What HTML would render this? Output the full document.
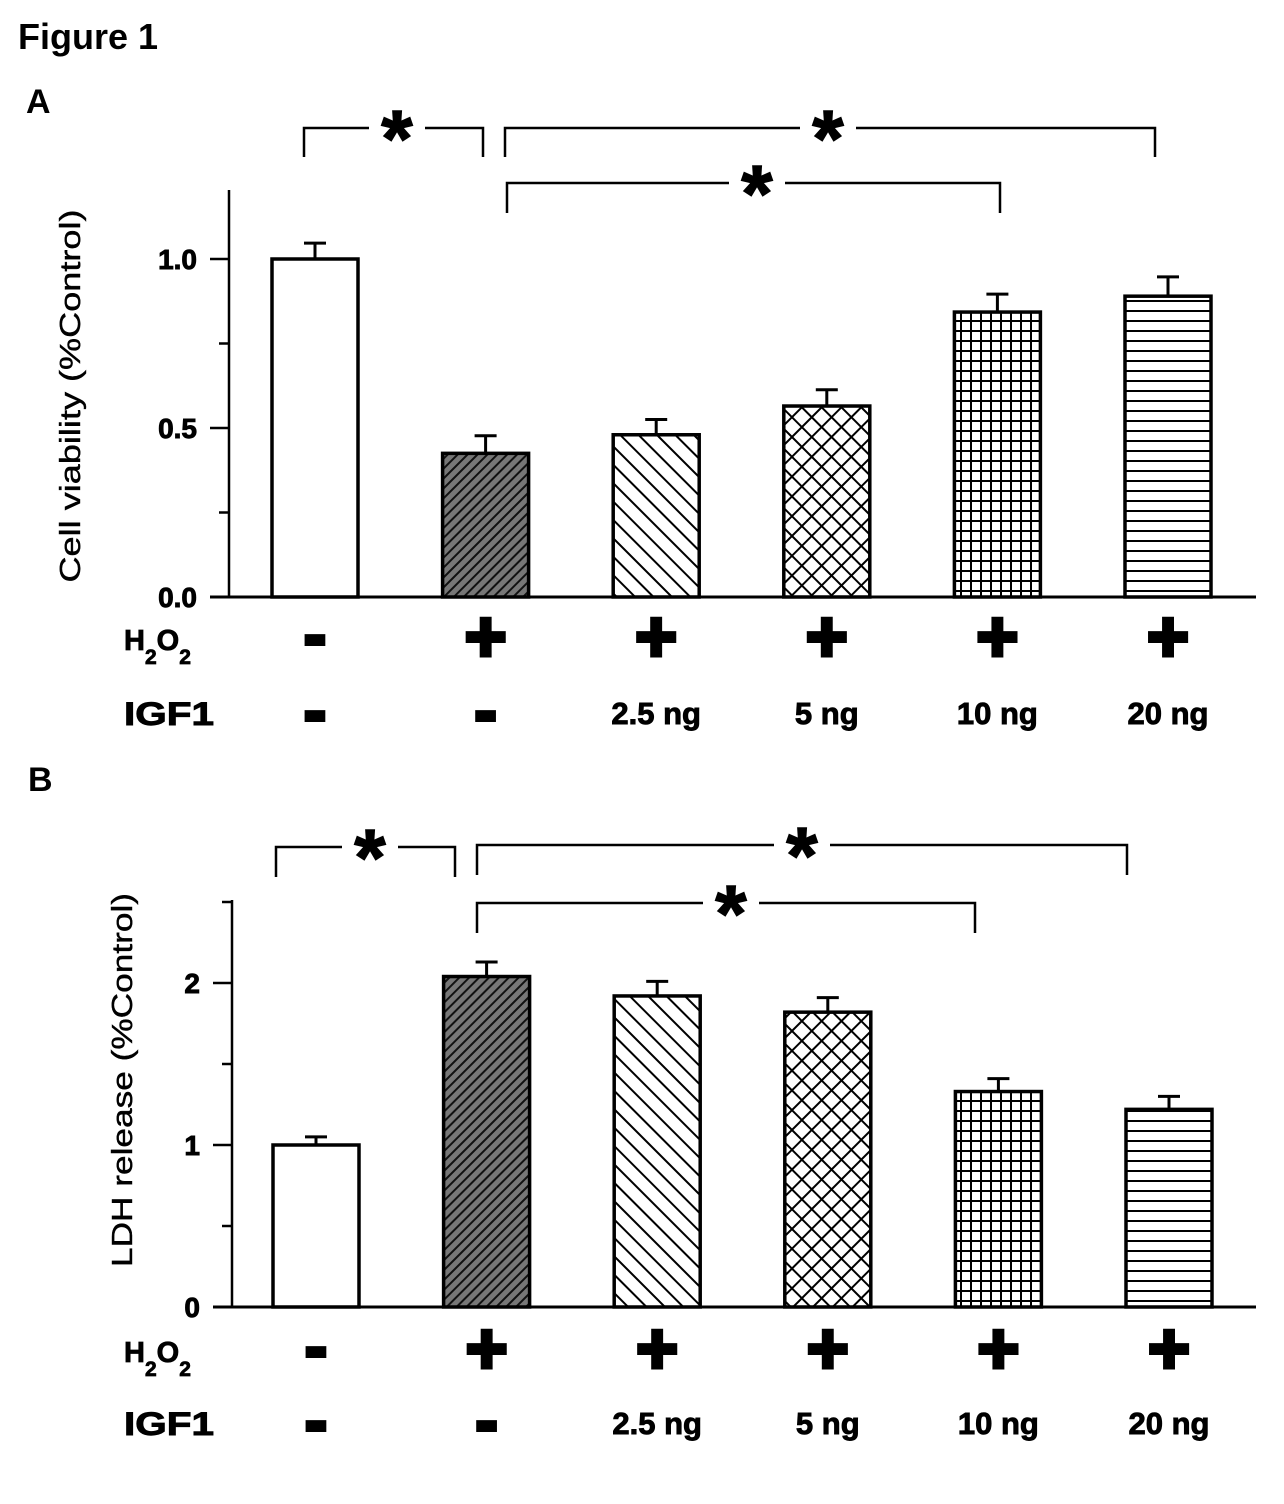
<!DOCTYPE html>
<html><head><meta charset="utf-8"><style>
body{margin:0;background:#fff}
svg{display:block;font-family:"Liberation Sans",Arial,sans-serif}
</style></head><body>
<svg id="fig" width="1284" height="1504" viewBox="0 0 1284 1504" xmlns="http://www.w3.org/2000/svg">
<defs>
<pattern id="p1" width="7" height="7" patternUnits="userSpaceOnUse" patternTransform="rotate(45)"><rect width="7" height="7" fill="#777"/><line x1="0" y1="0" x2="0" y2="7" stroke="#111" stroke-width="4"/></pattern>
<pattern id="p2" width="13" height="13" patternUnits="userSpaceOnUse" patternTransform="rotate(-45)"><rect width="13" height="13" fill="#fff"/><line x1="0" y1="0" x2="0" y2="13" stroke="#000" stroke-width="4"/></pattern>
<pattern id="p3" width="14" height="14" patternUnits="userSpaceOnUse" patternTransform="rotate(45)"><rect width="14" height="14" fill="#fff"/><line x1="0" y1="0" x2="0" y2="14" stroke="#000" stroke-width="4"/><line x1="0" y1="0" x2="14" y2="0" stroke="#000" stroke-width="4"/></pattern>
<pattern id="p4" width="10" height="10" patternUnits="userSpaceOnUse"><rect width="10" height="10" fill="#fff"/><line x1="0" y1="0" x2="0" y2="10" stroke="#000" stroke-width="4"/><line x1="0" y1="0" x2="10" y2="0" stroke="#000" stroke-width="4"/></pattern>
<pattern id="p5" width="10" height="10" patternUnits="userSpaceOnUse"><rect width="10" height="10" fill="#fff"/><line x1="0" y1="0" x2="10" y2="0" stroke="#000" stroke-width="4"/></pattern>
</defs>
<text x="18" y="49" font-size="36" font-weight="bold">Figure 1</text>
<text x="26" y="113" font-size="34" font-weight="bold">A</text>
<text x="28" y="791" font-size="34" font-weight="bold">B</text>
<g id="gA"></g><g id="gB"></g>
</svg>
<script>
const categories = ["Control","H2O2","H2O2+IGF1 2.5ng","H2O2+IGF1 5ng","H2O2+IGF1 10ng","H2O2+IGF1 20ng"];
const h2o2Signs = ["-","+","+","+","+","+"];
const igf1Labels = ["-","-","2.5 ng","5 ng","10 ng","20 ng"];
const viabilityValues = [1.0, 0.425, 0.48, 0.565, 0.843, 0.89];
const viabilityErrors = [0.047, 0.052, 0.045, 0.048, 0.053, 0.057];
const viabilityTicks = ["0.0","0.5","1.0"];
const viabilityMinor = [0.25, 0.75];
const ldhValues = [1.0, 2.04, 1.92, 1.82, 1.33, 1.22];
const ldhErrors = [0.05, 0.09, 0.09, 0.09, 0.08, 0.08];
const ldhTicks = ["0","1","2"];
const ldhMinor = [0.5, 1.5, 2.5];
const fills = ["#fff","url(#p1)","url(#p2)","url(#p3)","url(#p4)","url(#p5)"];
const NS="http://www.w3.org/2000/svg";
function mk(parent,tag,attrs,text){const e=document.createElementNS(NS,tag);for(const k in attrs)e.setAttribute(k,attrs[k]);if(text!==undefined)e.textContent=text;parent.appendChild(e);return e;}

function panel(g,cfg){
  const yS=v=>cfg.y0-(v/cfg.unit)*cfg.unitPx;
  const xS=i=>cfg.x0+i*cfg.step;
  const ya=mk(g,'line',{x1:cfg.ax,y1:cfg.top,x2:cfg.ax,y2:cfg.y0,stroke:'#000','stroke-width':2.5});
  
  
  const xa=mk(g,'line',{x1:cfg.ax-19,y1:cfg.y0,x2:1256,y2:cfg.y0,stroke:'#000','stroke-width':3});
  
  
  cfg.ticks.forEach(t=>{
    const y=yS(parseFloat(t));
    const tk=mk(g,'line',{x1:cfg.ax-19,y1:y,x2:cfg.ax,y2:y,stroke:'#000','stroke-width':2.5});
    
    
    const tl=mk(g,'text',{x:cfg.ax-32,y:y+10,'font-size':28,'font-weight':'bold','text-anchor':'end',stroke:'#000','stroke-width':0.9},t);
    
    
  });
  cfg.minor.forEach(m=>{
    const y=yS(m);
    const tk=mk(g,'line',{x1:cfg.ax-10,y1:y,x2:cfg.ax,y2:y,stroke:'#000','stroke-width':2.5});
    
    
  });
  const yt=mk(g,'text',{x:0,y:0,'font-size':29,'text-anchor':'middle',stroke:'#000','stroke-width':0.4,textLength:cfg.titleLen,lengthAdjust:'spacingAndGlyphs',transform:`translate(${cfg.titleX},${cfg.titleY}) rotate(-90)`},cfg.title);
  
  
  cfg.values.forEach((v,i)=>{
    const cx=xS(i), w=86, yt=yS(v), ye=yS(v+cfg.errors[i]);
    const eb=mk(g,'path',{d:`M${cx} ${yt}V${ye}M${cx-11} ${ye}H${cx+11}`,stroke:'#000','stroke-width':3,fill:'none'});
    
    
    const b=mk(g,'rect',{x:cx-w/2,y:yt,width:w,height:cfg.y0-yt,fill:fills[i],stroke:'#000','stroke-width':3.5});
    
    
    const s=h2o2Signs[i];
    const h=mk(g,'text',{x:cx,y:cfg.rowY1+(s==='+'?25:21),'font-size':s==='+'?72:66,'font-weight':'bold','text-anchor':'middle',stroke:'#000','stroke-width':4},s);
    
    
    const l=igf1Labels[i];
    const q=mk(g,'text',{x:cx,y:cfg.rowY2+(l==='-'?21:12),'font-size':l==='-'?66:31,'font-weight':'bold','text-anchor':'middle',stroke:'#000','stroke-width':l==='-'?4:0.9},l);
    
    
  });
  const hl=mk(g,'text',{x:124,y:cfg.rowY1+14,'font-size':29,'font-weight':'bold',stroke:'#000','stroke-width':0.8});
  
  
  hl.innerHTML='H<tspan dy="14" font-size="21">2</tspan><tspan dy="-14">O</tspan><tspan dy="14" font-size="21">2</tspan>';
  const il=mk(g,'text',{x:124,y:cfg.rowY2+13,'font-size':32,'font-weight':'bold',stroke:'#000','stroke-width':0.9,textLength:90,lengthAdjust:'spacingAndGlyphs'},'IGF1');
  
  
  cfg.brackets.forEach(b=>{
    const [x1,x2,y,dy,sx]=b;
    const p=mk(g,'path',{d:`M${x1} ${y+dy}V${y}H${sx-28}M${sx+28} ${y}H${x2}V${y+dy}`,stroke:'#000','stroke-width':2.5,fill:'none'});
    
    
    const st=mk(g,'text',{x:sx,y:y+38,'font-size':80,'font-weight':'bold','text-anchor':'middle',stroke:'#000','stroke-width':1.5},'*');
    
    
  });
}
panel(document.getElementById('gA'),{id:'panel-a',ax:229,top:190,y0:597,unit:0.5,unitPx:169,x0:315,step:170.6,
  values:viabilityValues,errors:viabilityErrors,ticks:viabilityTicks,minor:viabilityMinor,title:'Cell viability (%Control)',titleX:80,titleY:396,titleLen:373,
  rowY1:636,rowY2:712,brackets:[[304,483,128,29,397],[505,1155,128,29,828],[507,1000,183,30,757]]});
panel(document.getElementById('gB'),{id:'panel-b',ax:232,top:900,y0:1307,unit:1,unitPx:162,x0:316,step:170.6,
  values:ldhValues,errors:ldhErrors,ticks:ldhTicks,minor:ldhMinor,title:'LDH release (%Control)',titleX:132,titleY:1080,titleLen:374,
  rowY1:1348,rowY2:1422,brackets:[[276,455,847,30,370],[477,1127,845,30,802],[477,975,903,30,731]]});
</script>
</body></html>
